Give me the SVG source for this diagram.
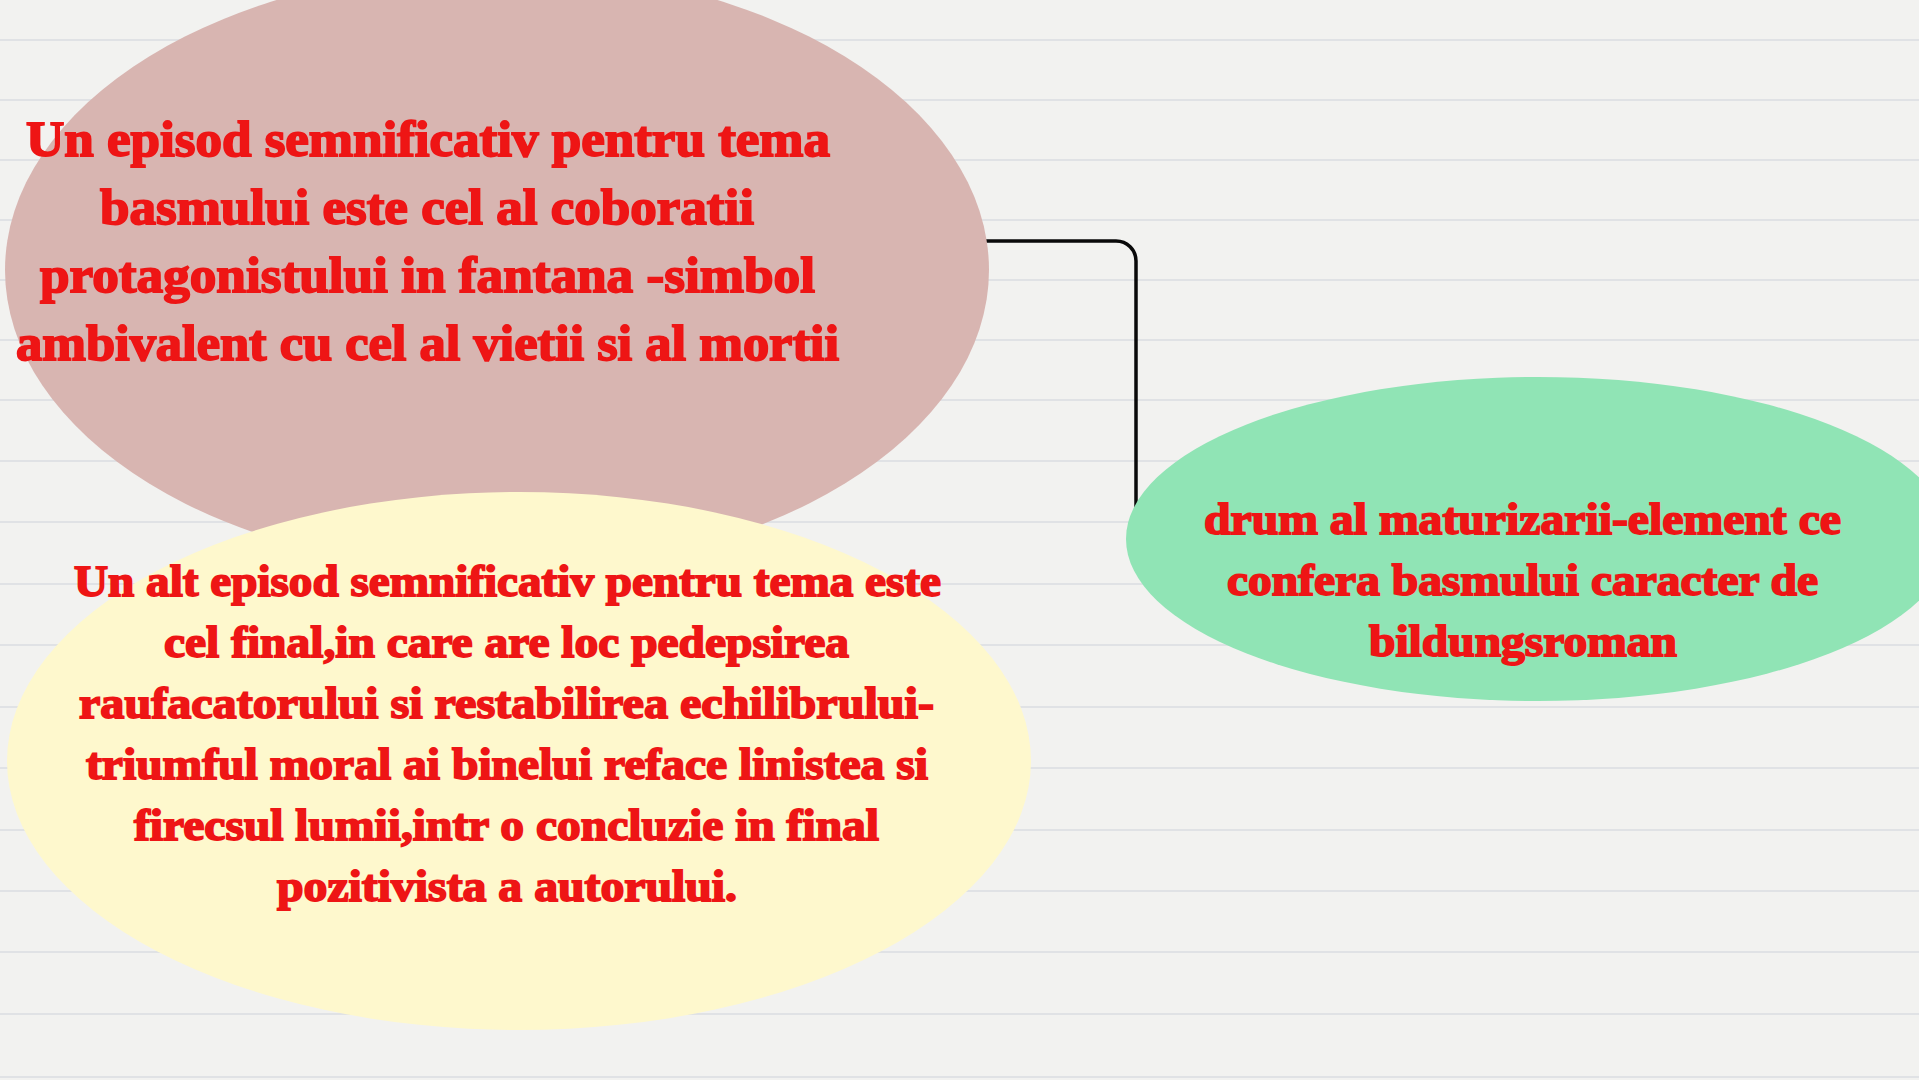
<svg xmlns="http://www.w3.org/2000/svg" width="1919" height="1080" viewBox="0 0 1919 1080">
<style>
.bg{fill:#f2f2f0}
.rule{stroke:#e0e2e5;stroke-width:2.2}
.t{font-family:"Liberation Serif","Times New Roman",serif;font-weight:bold;fill:#ee1515;stroke:#ee1515;stroke-width:1.8;paint-order:stroke}
.p{font-size:50px}
.y{font-size:44px}
.g{font-size:44px}
.conn{fill:none;stroke:#0a0a0a;stroke-width:3.5;stroke-linecap:round}
</style>
<rect class="bg" x="0" y="0" width="1919" height="1080"/>
<g id="rules">
<line class="rule" x1="0" y1="40" x2="1919" y2="40"/>
<line class="rule" x1="0" y1="100" x2="1919" y2="100"/>
<line class="rule" x1="0" y1="160" x2="1919" y2="160"/>
<line class="rule" x1="0" y1="220" x2="1919" y2="220"/>
<line class="rule" x1="0" y1="280" x2="1919" y2="280"/>
<line class="rule" x1="0" y1="340" x2="1919" y2="340"/>
<line class="rule" x1="0" y1="400" x2="1919" y2="400"/>
<line class="rule" x1="0" y1="461" x2="1919" y2="461"/>
<line class="rule" x1="0" y1="522" x2="1919" y2="522"/>
<line class="rule" x1="0" y1="584" x2="1919" y2="584"/>
<line class="rule" x1="0" y1="645" x2="1919" y2="645"/>
<line class="rule" x1="0" y1="707" x2="1919" y2="707"/>
<line class="rule" x1="0" y1="768" x2="1919" y2="768"/>
<line class="rule" x1="0" y1="830" x2="1919" y2="830"/>
<line class="rule" x1="0" y1="891" x2="1919" y2="891"/>
<line class="rule" x1="0" y1="952" x2="1919" y2="952"/>
<line class="rule" x1="0" y1="1014" x2="1919" y2="1014"/>
<line class="rule" x1="0" y1="1077" x2="1919" y2="1077"/>
</g>
<g id="connectors">
<path class="conn" d="M 985 241 H 1116 A 20 20 0 0 1 1136 261 V 520"/>
</g>
<g id="node-pink">
<ellipse cx="497" cy="270" rx="492" ry="302" fill="#d8b5b1"/>
<text class="t p" x="26" y="156" textLength="804" lengthAdjust="spacingAndGlyphs">Un episod semnificativ pentru tema</text>
<text class="t p" x="100" y="224" textLength="654" lengthAdjust="spacingAndGlyphs">basmului este cel al coboratii</text>
<text class="t p" x="40" y="292" textLength="775" lengthAdjust="spacingAndGlyphs">protagonistului in fantana -simbol</text>
<text class="t p" x="16" y="360" textLength="823" lengthAdjust="spacingAndGlyphs">ambivalent cu cel al vietii si al mortii</text>
</g>
<g id="node-yellow">
<ellipse cx="519" cy="761" rx="512" ry="269" fill="#fef8cd"/>
<text class="t y" x="74" y="596" textLength="867" lengthAdjust="spacingAndGlyphs">Un alt episod semnificativ pentru tema este</text>
<text class="t y" x="164" y="657" textLength="685" lengthAdjust="spacingAndGlyphs">cel final,in care are loc pedepsirea</text>
<text class="t y" x="79" y="718" textLength="855" lengthAdjust="spacingAndGlyphs">raufacatorului si restabilirea echilibrului-</text>
<text class="t y" x="86" y="779" textLength="842" lengthAdjust="spacingAndGlyphs">triumful moral ai binelui reface linistea si</text>
<text class="t y" x="134" y="840" textLength="745" lengthAdjust="spacingAndGlyphs">firecsul lumii,intr o concluzie in final</text>
<text class="t y" x="277" y="901" textLength="460" lengthAdjust="spacingAndGlyphs">pozitivista a autorului.</text>
</g>
<g id="node-green">
<ellipse cx="1538" cy="539" rx="412" ry="162" fill="#90e4b5"/>
<text class="t g" x="1204" y="534" textLength="637" lengthAdjust="spacingAndGlyphs">drum al maturizarii-element ce</text>
<text class="t g" x="1227" y="595" textLength="591" lengthAdjust="spacingAndGlyphs">confera basmului caracter de</text>
<text class="t g" x="1369" y="656" textLength="308" lengthAdjust="spacingAndGlyphs">bildungsroman</text>
</g>
</svg>
